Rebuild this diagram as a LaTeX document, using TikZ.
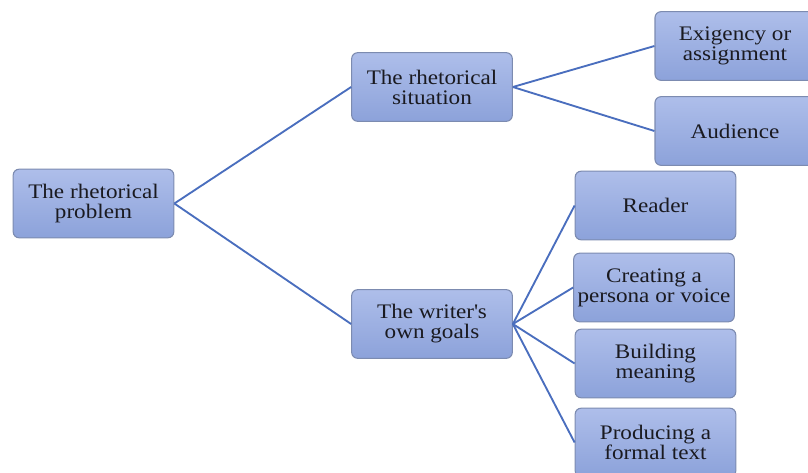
\documentclass[tikz,border=0pt]{standalone}
\usepackage{fontspec}
\setmainfont{Liberation Serif}[FakeStretch=1.12]
\usepackage{tikz}
\usetikzlibrary{arrows.meta,positioning,calc}
\definecolor{BoxTop}{HTML}{AEBEEA}
\definecolor{BoxBottom}{HTML}{8CA2DA}
\definecolor{BoxEdge}{HTML}{7C8BB0}
\definecolor{LinkBlue}{HTML}{4A6EBE}
\definecolor{InkDark}{HTML}{1A1A20}
\tikzset{
  box/.style={rectangle,rounded corners=4.5pt,draw=BoxEdge,line width=0.8pt,
    top color=BoxTop,bottom color=BoxBottom,text=InkDark,
    minimum width=120.5pt,minimum height=51.5pt,align=center,inner sep=1pt,
    font=\fontsize{15.5}{15}\selectfont},
  link/.style={LinkBlue,line width=1.4pt}
}
\begin{document}
\begin{tikzpicture}[x=0.75pt,y=-0.75pt,>=Latex]
  \useasboundingbox (0,0) rectangle (808,472);
  \clip (0,0) rectangle (808,472);
  \node[box] (problem) at (93.5,203.5) {The rhetorical\\problem};
  \node[box] (situation) at (432,87) {The rhetorical\\situation};
  \node[box] (goals) at (432,324) {The writer\textquotesingle s\\own goals};
  \node[box,minimum width=120pt] (exigency) at (735,46) {Exigency or\\assignment};
  \node[box,minimum width=120pt] (audience) at (735,131) {Audience};
  \node[box] (reader) at (655.5,205.5) {Reader};
  \node[box] (persona) at (654,287.5) {Creating a\\persona or voice};
  \node[box] (meaning) at (655.5,363.5) {Building\\meaning};
  \node[box] (formal) at (655.5,442.5) {Producing a\\formal text};
  \draw[link] (problem.east) -- (situation.west);
  \draw[link] (problem.east) -- (goals.west);
  \foreach \kid in {exigency,audience}
    {\draw[link] (situation.east) -- (\kid.west);}
  \foreach \kid in {reader,persona,meaning,formal}
    {\draw[link] (goals.east) -- (\kid.west);}
\end{tikzpicture}
\end{document}
